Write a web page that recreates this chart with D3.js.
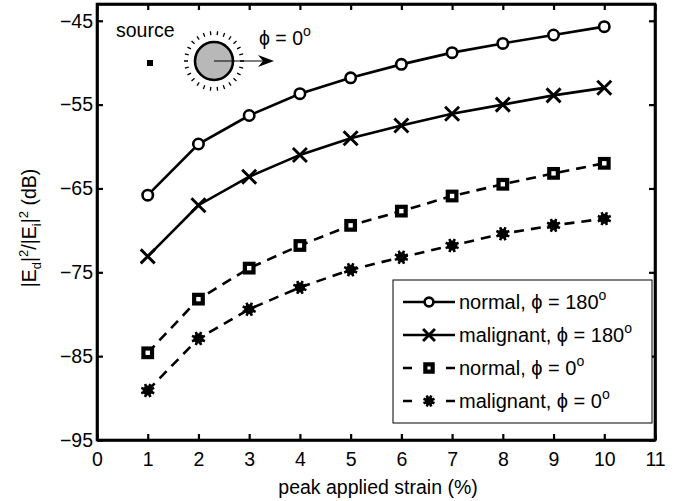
<!DOCTYPE html>
<html><head><meta charset="utf-8">
<script src="https://cdn.jsdelivr.net/npm/d3@7"></script>
<style>
body{margin:0;background:#fff}
svg{display:block}
text{font-family:"Liberation Sans",Arial,Helvetica,sans-serif;fill:#000}
</style>
</head><body>
<svg id="c" width="678" height="501"></svg>
<script>
// ---- data ----
const strain = [1,2,3,4,5,6,7,8,9,10];
const normal180    = [-65.8,-59.7,-56.3,-53.7,-51.8,-50.2,-48.8,-47.7,-46.7,-45.7];
const malignant180 = [-73.1,-67.0,-63.6,-61.0,-59.0,-57.5,-56.1,-55.0,-53.9,-53.0];
const normal0      = [-84.6,-78.2,-74.5,-71.8,-69.4,-67.7,-65.9,-64.5,-63.2,-62.0];
const malignant0   = [-89.1,-82.9,-79.4,-76.8,-74.7,-73.2,-71.8,-70.4,-69.4,-68.6];
const seriesNames  = ["normal", "malignant", "normal", "malignant"];
const seriesAngles = ["180", "180", "0", "0"];
const xTicks = [0,1,2,3,4,5,6,7,8,9,10,11];
const yTicks = [-95,-85,-75,-65,-55,-45];
const xLabel = "peak applied strain (%)";

const series = [
  {vals: normal180,    marker: "circle", dash: null},
  {vals: malignant180, marker: "cross",  dash: null},
  {vals: normal0,      marker: "square", dash: "10,7"},
  {vals: malignant0,   marker: "star",   dash: "10,7"}
];

const svg = d3.select("#c");
const L = 97, R = 655, T = 4, B = 440;
const x = d3.scaleLinear().domain([0,11]).range([L,R]);
const y = d3.scaleLinear().domain([-95,-43]).range([B,T]);
const SW = 2.6;
const PHI = "\u03d5";

function styleAxis(g){
  g.selectAll(".domain").attr("stroke","#000").attr("stroke-width",SW);
  g.selectAll(".tick line").attr("stroke","#000").attr("stroke-width",2.2);
  g.selectAll("text").attr("font-size",19.5).attr("font-family","Liberation Sans, Arial, sans-serif").attr("fill","#000");
}
const minus = d => (d<0 ? "\u2212"+Math.abs(d) : ""+d);
svg.append("g").attr("transform",`translate(0,${B})`)
  .call(d3.axisBottom(x).tickValues(xTicks).tickSizeInner(-6).tickSizeOuter(0).tickPadding(12.5).tickFormat(d=>d))
  .call(styleAxis);
svg.append("g").attr("transform",`translate(0,${T})`)
  .call(d3.axisTop(x).tickValues(xTicks).tickSizeInner(-6).tickSizeOuter(0).tickFormat(""))
  .call(styleAxis);
svg.append("g").attr("transform",`translate(${L},0)`)
  .call(d3.axisLeft(y).tickValues(yTicks).tickSizeInner(-6).tickSizeOuter(0).tickPadding(4).tickFormat(minus))
  .call(styleAxis);
svg.append("g").attr("transform",`translate(${R},0)`)
  .call(d3.axisRight(y).tickValues(yTicks).tickSizeInner(-6).tickSizeOuter(0).tickFormat(""))
  .call(styleAxis);
svg.append("rect").attr("x",L).attr("y",T).attr("width",R-L).attr("height",B-T)
  .attr("fill","none").attr("stroke","#000").attr("stroke-width",SW);

function drawMarker(g, type, cx, cy, k){
  k = k || 1;
  if(type==="circle"){
    g.append("circle").attr("cx",cx).attr("cy",cy).attr("r",5.2*k)
      .attr("fill","#fff").attr("stroke","#000").attr("stroke-width",2.6);
  } else if(type==="cross"){
    const s=7*k;
    g.append("path").attr("d",`M${cx-s},${cy-s}L${cx+s},${cy+s}M${cx-s},${cy+s}L${cx+s},${cy-s}`)
      .attr("stroke","#000").attr("stroke-width",2.9).attr("fill","none");
  } else if(type==="square"){
    const s=4.3*k;
    g.append("rect").attr("x",cx-s).attr("y",cy-s).attr("width",2*s).attr("height",2*s)
      .attr("fill","#fff").attr("stroke","#000").attr("stroke-width",4.2);
  } else if(type==="star"){
    g.append("circle").attr("cx",cx).attr("cy",cy).attr("r",5*k).attr("fill","#000");
    let d="";
    for(let i=0;i<8;i++){
      const a=i*Math.PI/4+Math.PI/8;
      d+=`M${cx},${cy}L${cx+7*k*Math.cos(a)},${cy+7*k*Math.sin(a)}`;
    }
    g.append("path").attr("d",d).attr("stroke","#000").attr("stroke-width",2.6).attr("fill","none");
  }
}

const line = d3.line().x(d=>x(d[0])).y(d=>y(d[1]));
const plot = svg.append("g");
series.forEach(s=>{
  const pts = strain.map((v,i)=>[v,s.vals[i]]);
  plot.append("path").datum(pts).attr("d",line)
    .attr("fill","none").attr("stroke","#000").attr("stroke-width",SW)
    .attr("stroke-dasharray",s.dash);
  const mg = plot.append("g");
  pts.forEach(p=>drawMarker(mg,s.marker,x(p[0]),y(p[1])));
});

svg.append("text").attr("x",(L+R)/2+2).attr("y",494).attr("text-anchor","middle")
  .attr("font-size",19.5).text(xLabel);
const yl = svg.append("text").attr("transform","translate(36,228) rotate(-90)")
  .attr("text-anchor","middle").attr("font-size",19.5);
yl.append("tspan").text("|E");
yl.append("tspan").attr("font-size",13).attr("dy",5).text("d");
yl.append("tspan").attr("dy",-5).text("|");
yl.append("tspan").attr("font-size",13).attr("dy",-8).text("2");
yl.append("tspan").attr("dy",8).text("/|E");
yl.append("tspan").attr("font-size",13).attr("dy",5).text("i");
yl.append("tspan").attr("dy",-5).text("|");
yl.append("tspan").attr("font-size",13).attr("dy",-8).text("2");
yl.append("tspan").attr("dy",8).text(" (dB)");

// legend
const lg = svg.append("g");
const lx0=393, ly0=280, lx1=652, ly1=423;
lg.append("rect").attr("x",lx0).attr("y",ly0).attr("width",lx1-lx0).attr("height",ly1-ly0)
  .attr("fill","#fff").attr("stroke","#000").attr("stroke-width",1);
const rowY=[302,335,368,401];
series.forEach((s,i)=>{
  const yy=rowY[i];
  if(s.dash){
    lg.append("path").attr("d",`M403,${yy}L412,${yy}M446,${yy}L455,${yy}`)
      .attr("stroke","#000").attr("stroke-width",SW);
  } else {
    lg.append("path").attr("d",`M403,${yy}L455,${yy}`).attr("stroke","#000").attr("stroke-width",SW);
  }
  drawMarker(lg,s.marker,429,yy,0.85);
  const t=lg.append("text").attr("x",459).attr("y",yy+7).attr("font-size",20);
  t.append("tspan").text(seriesNames[i]+", "+PHI+" = "+seriesAngles[i]);
  t.append("tspan").attr("font-size",14).attr("dy",-9).text("o");
});

// inset schematic
const ins = svg.append("g");
ins.append("text").attr("x",116).attr("y",37).attr("font-size",19.5).text("source");
ins.append("rect").attr("x",147).attr("y",60).attr("width",6).attr("height",6).attr("fill","#000");
const cx=214, cy=61;
let dd="";
for(let i=0;i<26;i++){
  const a=i*2*Math.PI/26;
  dd+=`M${cx+26*Math.cos(a)},${cy+26*Math.sin(a)}L${cx+30*Math.cos(a)},${cy+30*Math.sin(a)}`;
}
ins.append("path").attr("d",dd).attr("stroke","#000").attr("stroke-width",1.3);
ins.append("circle").attr("cx",cx).attr("cy",cy).attr("r",19).attr("fill","#b8b8b8")
  .attr("stroke","#000").attr("stroke-width",2.6);
ins.append("line").attr("x1",cx).attr("y1",cy).attr("x2",268).attr("y2",cy)
  .attr("stroke","#000").attr("stroke-width",1.2);
ins.append("path").attr("d",`M274,${cy}L258,${cy-6}L263,${cy}L258,${cy+6}Z`).attr("fill","#000");
const pt = ins.append("text").attr("x",259).attr("y",45).attr("font-size",19.5);
pt.append("tspan").text(PHI+" = 0");
pt.append("tspan").attr("font-size",14).attr("dy",-9).text("o");
</script>
</body></html>
